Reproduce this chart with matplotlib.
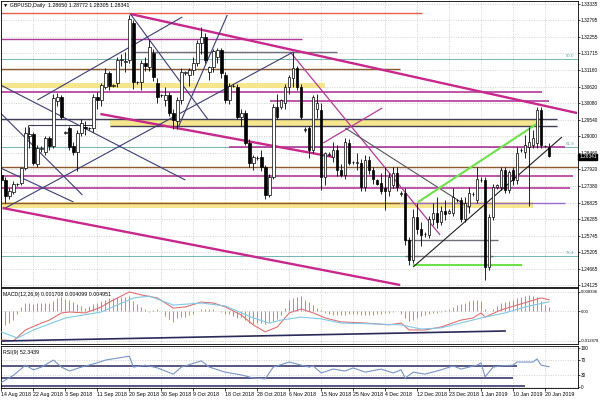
import matplotlib
matplotlib.use("Agg")
import matplotlib.pyplot as plt
import numpy as np

plt.rcParams.update({
    "font.family": ["Liberation Sans", "DejaVu Sans"],
    "font.size": 4,
    "axes.linewidth": 0.6,
})

# ── GBPUSD daily candles (bar index 0 = 14 Aug 2018) ─────────────────────────
opens = [
    1.2772, 1.2757, 1.2704, 1.2718, 1.2742, 1.2747, 1.2796, 1.2900, 1.2908, 1.2810,
    1.2858, 1.2850, 1.2894, 1.2867, 1.3015, 1.3030, 1.2912, 1.2926, 1.2868, 1.2850,
    1.2911, 1.2930, 1.2926, 1.2926, 1.3029, 1.3019, 1.3062, 1.3107, 1.3066, 1.3075,
    1.3150, 1.3145, 1.3150, 1.3272, 1.3078, 1.3078, 1.3140, 1.3127, 1.3173, 1.3075,
    1.3035, 1.3020, 1.3035, 1.2976, 1.2950, 1.3019, 1.3108, 1.3100, 1.3117, 1.3140,
    1.3206, 1.3226, 1.3110, 1.3127, 1.3160, 1.3183, 1.3101, 1.3019, 1.3065, 1.3062,
    1.2963, 1.2976, 1.2878, 1.2812, 1.2828, 1.2832, 1.2799, 1.2707, 1.2766, 1.2996,
    1.2996, 1.3009, 1.3062, 1.3090, 1.3124, 1.3062, 1.2921, 1.2927, 1.2855, 1.2990,
    1.2986, 1.2766, 1.2840, 1.2832, 1.2855, 1.2789, 1.2773, 1.2878, 1.2815, 1.2812,
    1.2812, 1.2734, 1.2822, 1.2789, 1.2755, 1.2747, 1.2730, 1.2722, 1.2740, 1.2780,
    1.2712, 1.2714, 1.2560, 1.2494, 1.2635, 1.2595, 1.2580, 1.2575, 1.2630, 1.2650,
    1.2620, 1.2655, 1.2650, 1.2648, 1.2690, 1.2690, 1.2630, 1.2670, 1.2710, 1.2690,
    1.2757, 1.2757, 1.2470, 1.2635, 1.2734, 1.2735, 1.2790, 1.2725, 1.2790, 1.2757,
    1.2855, 1.2850, 1.2865, 1.2870, 1.2878, 1.2986, 1.2868, 1.2865]
highs = [
    1.2790, 1.2768, 1.2732, 1.2752, 1.2747, 1.2800, 1.2930, 1.2930, 1.2915, 1.2870,
    1.2868, 1.2900, 1.2900, 1.3040, 1.3043, 1.3035, 1.2918, 1.2935, 1.2880, 1.2920,
    1.2955, 1.2950, 1.2930, 1.3040, 1.3045, 1.3075, 1.3125, 1.3115, 1.3072, 1.3160,
    1.3170, 1.3175, 1.3299, 1.3280, 1.3082, 1.3150, 1.3160, 1.3215, 1.3185, 1.3090,
    1.3040, 1.3060, 1.3045, 1.2990, 1.3030, 1.3125, 1.3115, 1.3125, 1.3160, 1.3215,
    1.3257, 1.3240, 1.3130, 1.3185, 1.3190, 1.3188, 1.3110, 1.3075, 1.3070, 1.3070,
    1.2990, 1.2985, 1.2890, 1.2840, 1.2835, 1.2855, 1.2805, 1.2775, 1.3005, 1.3040,
    1.3022, 1.3070, 1.3100, 1.3176, 1.3130, 1.3070, 1.2930, 1.2935, 1.3035, 1.3040,
    1.3010, 1.2850, 1.2848, 1.2880, 1.2870, 1.2810, 1.2895, 1.2890, 1.2820, 1.2845,
    1.2825, 1.2840, 1.2835, 1.2800, 1.2760, 1.2780, 1.2800, 1.2780, 1.2800, 1.2800,
    1.2720, 1.2730, 1.2570, 1.2660, 1.2680, 1.2620, 1.2585, 1.2640, 1.2680, 1.2700,
    1.2670, 1.2690, 1.2660, 1.2730, 1.2695, 1.2700, 1.2700, 1.2735, 1.2718, 1.2800,
    1.2765, 1.2765, 1.2645, 1.2745, 1.2745, 1.2800, 1.2800, 1.2790, 1.2800, 1.2865,
    1.2860, 1.2905, 1.2930, 1.2920, 1.2995, 1.2995, 1.2872, 1.2877]
lows = [
    1.2745, 1.2681, 1.2695, 1.2710, 1.2738, 1.2740, 1.2790, 1.2862, 1.2805, 1.2800,
    1.2850, 1.2840, 1.2855, 1.2860, 1.3000, 1.2955, 1.2908, 1.2855, 1.2840, 1.2786,
    1.2900, 1.2905, 1.2922, 1.2915, 1.2990, 1.3000, 1.3055, 1.3050, 1.3062, 1.3062,
    1.3130, 1.3110, 1.3140, 1.3055, 1.3072, 1.3050, 1.3115, 1.3115, 1.3080, 1.3010,
    1.3030, 1.3000, 1.2965, 1.2925, 1.2925, 1.3005, 1.3100, 1.3065, 1.3100, 1.3130,
    1.3170, 1.3140, 1.3085, 1.3110, 1.3140, 1.3090, 1.3010, 1.3005, 1.3060, 1.2955,
    1.2935, 1.2870, 1.2800, 1.2790, 1.2822, 1.2785, 1.2695, 1.2700, 1.2760, 1.2955,
    1.2990, 1.2990, 1.3040, 1.3060, 1.3050, 1.2955, 1.2915, 1.2830, 1.2845, 1.2960,
    1.2725, 1.2740, 1.2835, 1.2815, 1.2770, 1.2765, 1.2760, 1.2805, 1.2810, 1.2790,
    1.2720, 1.2720, 1.2775, 1.2745, 1.2740, 1.2710, 1.2659, 1.2705, 1.2730, 1.2720,
    1.2705, 1.2545, 1.2477, 1.2485, 1.2580, 1.2540, 1.2570, 1.2565, 1.2610, 1.2600,
    1.2610, 1.2625, 1.2645, 1.2640, 1.2685, 1.2620, 1.2620, 1.2650, 1.2705, 1.2680,
    1.2750, 1.2430, 1.2460, 1.2625, 1.2728, 1.2725, 1.2715, 1.2715, 1.2740, 1.2745,
    1.2850, 1.2830, 1.2670, 1.2860, 1.2860, 1.2860, 1.2864, 1.2831]
closes = [
    1.2757, 1.2704, 1.2720, 1.2745, 1.2744, 1.2795, 1.2912, 1.2908, 1.2812, 1.2860,
    1.2862, 1.2894, 1.2867, 1.3025, 1.3030, 1.2964, 1.2915, 1.2866, 1.2850, 1.2910,
    1.2945, 1.2927, 1.2928, 1.3029, 1.3019, 1.3068, 1.3107, 1.3065, 1.3068, 1.3150,
    1.3152, 1.3148, 1.3285, 1.3078, 1.3077, 1.3140, 1.3130, 1.3193, 1.3094, 1.3029,
    1.3036, 1.3035, 1.2976, 1.2954, 1.3019, 1.3110, 1.3112, 1.3117, 1.3140, 1.3206,
    1.3226, 1.3150, 1.3127, 1.3180, 1.3183, 1.3107, 1.3019, 1.3065, 1.3064, 1.2963,
    1.2976, 1.2878, 1.2812, 1.2832, 1.2830, 1.2799, 1.2707, 1.2766, 1.2996, 1.2963,
    1.3019, 1.3062, 1.3094, 1.3124, 1.3062, 1.2963, 1.2925, 1.2855, 1.3029, 1.3010,
    1.2766, 1.2845, 1.2843, 1.2855, 1.2789, 1.2773, 1.2880, 1.2812, 1.2817, 1.2815,
    1.2734, 1.2822, 1.2789, 1.2760, 1.2745, 1.2720, 1.2722, 1.2766, 1.2780, 1.2734,
    1.2714, 1.2560, 1.2494, 1.2635, 1.2595, 1.2575, 1.2578, 1.2630, 1.2650, 1.2620,
    1.2655, 1.2645, 1.2655, 1.2700, 1.2690, 1.2630, 1.2680, 1.2715, 1.2712, 1.2760,
    1.2758, 1.2470, 1.2635, 1.2734, 1.2740, 1.2790, 1.2725, 1.2782, 1.2757, 1.2845,
    1.2856, 1.2870, 1.2880, 1.2895, 1.2986, 1.2870, 1.2867, 1.2834]

price_ticks = [1.33335, 1.32795, 1.32255, 1.31715, 1.31160, 1.30620, 1.30080, 1.29540, 1.29000,
               1.28460, 1.27920, 1.27380, 1.26825, 1.26285, 1.25745, 1.25205, 1.24665, 1.24125]
last_price = 1.28341

date_pos = [0, 8, 16, 24, 32, 40, 48, 56, 64, 72, 80, 88, 96, 104, 112, 120, 128, 136]
date_labels = ["14 Aug 2018", "22 Aug 2018", "3 Sep 2018", "11 Sep 2018", "20 Sep 2018",
               "30 Sep 2018", "9 Oct 2018", "18 Oct 2018", "28 Oct 2018", "6 Nov 2018",
               "15 Nov 2018", "25 Nov 2018", "4 Dec 2018", "12 Dec 2018", "23 Dec 2018",
               "1 Jan 2019", "10 Jan 2019", "20 Jan 2019"]

# ── drawn objects ────────────────────────────────────────────────────────────
hl_price = [1.3304, 1.3219, 1.3176, 1.3120, 1.30451, 1.30156, 1.29566, 1.29336, 1.29369,
            1.28648, 1.27993, 1.27698, 1.27304, 1.26813, 1.26813, 1.25600, 1.25075, 1.24780]
hl_from = [-0.25, -0.25, 33.5, -0.25, -0.25, 67.25, -0.25, 27.25, 6.75,
           57, -0.25, -0.25, -0.25, -0.25, 99.75, 101, 101, 103]
hl_to = [105.25, 75.25, 84, 99.75, 135.25, 137, 139, 139, 23,
         141, 144.25, 143, 142.25, 99.75, 141, 124.25, 123, 130.25]

band_lo = [1.30582, 1.29336, 1.26649]
band_hi = [1.30746, 1.29533, 1.26845]
band_from = [-0.25, 27.25, -0.25]
band_to = [81, 134.75, 133]

fib_levels = [1.31532, 1.28648, 1.25075]
fib_names = ["50.0", "61.8", "76.4"]

tl_x0 = [32.25, 0.25, 24.75, 80.5, 72.25, 32.25, 9, 1, -0.25, -0.25, -0.25, 44.25, 86, 104.25, 103]
tl_p0 = [1.33007, 1.26649, 1.29730, 1.28779, 1.31762, 1.33007, 1.30188, 1.26649, 1.30680,
         1.29762, 1.27960, 1.29304, 1.29271, 1.26845, 1.24715]
tl_x1 = [144, 99.75, 83, 95.25, 109.75, 51.75, 45.25, 73, 46, 20.25, 18, 56.5, 117.25, 134.25, 140.25]
tl_p1 = [1.29762, 1.24125, 1.28320, 1.29926, 1.25764, 1.29533, 1.32909, 1.31762, 1.27566,
         1.27075, 1.26845, 1.32974, 1.26649, 1.29435, 1.28976]

# ── MACD(12,26,9), values in 1e-4 ────────────────────────────────────────────
macd_hist = [
    -68, -60, -50, -38, -10, 20, 34, 34, 30, 34,
    36, 36, 38, 46, 56, 62, 54, 48, 40, 32,
    24, 16, 24, 30, 36, 44, 50, 56, 58, 62,
    62, 64, 68, 44, 32, 20, 8, -2, 4, 10,
    2, -20, -35, -45, -30, -26, -26, -18, -10, 0,
    8, 8, 8, 10, 2, -4, -10, -10, -20, -28,
    -24, -36, -50, -55, -50, -52, -55, -45, -40, -35,
    -15, 14, 50, 58, 62, 66, 50, 40, 28, 16,
    4, -8, -12, -14, -16, -18, -14, -12, -10, -12,
    -16, -18, -16, -14, -12, -10, -8, -6, -4, 0,
    -10, -30, -40, -36, -30, -20, -16, -12, -8, -6,
    -4, 4, 12, 20, 26, 32, 38, 44, 48, 50,
    46, 8, 2, 10, 24, 34, 40, 46, 50, 56,
    62, 66, 70, 68, 62, 44, 26, 17]
macd_idx = [0, 3, 6, 10, 12, 15, 17, 21, 25, 27, 32, 35, 39, 43, 46, 50, 53, 56, 60, 63, 66,
            69, 72, 75, 78, 81, 85, 91, 97, 100, 102, 106, 110, 115, 118, 120, 121, 125, 129,
            133, 135, 137]
macd_line = [-124, -128, -81, -51, -38, -7, -3, -7, 19, 40, 84, 71, 58, 14, 19, 40, 36, 19,
             -16, -59, -89, -68, -7, 10, -7, -29, -46, -51, -59, -51, -81, -81, -68, -38, -29,
             -7, -25, 6, 27, 48, 58, 50]
signal_idx = [0, 4, 8, 16, 25, 33, 37, 43, 50, 56, 63, 67, 70, 75, 80, 85, 94, 100, 105, 110,
              116, 121, 126, 131, 137]
signal_line = [-90, -116, -81, -29, -3, 58, 66, 27, 36, 23, -29, -51, -38, -25, -33, -51, -55,
               -59, -77, -72, -46, -25, -7, 19, 41]
macd_trend = ([0.25, 126], [-0.01289, -0.00855])

# ── RSI(9) ───────────────────────────────────────────────────────────────────
rsi_idx = [0, 3, 6, 8, 10, 13, 15, 17, 20, 24, 26, 29, 32, 33, 36, 39, 43, 45, 50, 52, 56, 60,
           63, 66, 68, 72, 75, 77, 78, 80, 83, 86, 88, 91, 95, 98, 100, 101, 103, 106, 110,
           113, 115, 119, 120, 121, 123, 125, 128, 129, 133, 134, 135, 137]
rsi_val = [12, 30, 56, 44, 51, 69, 51, 41, 51, 62, 69, 74, 79, 51, 56, 49, 33, 51, 67, 51, 38,
           31, 23, 21, 51, 64, 56, 51, 54, 36, 46, 41, 49, 38, 46, 36, 44, 23, 38, 33, 44, 54,
           46, 56, 62, 26, 51, 54, 56, 64, 64, 72, 56, 52]
rsi_levels = [54.6, 23.8, 2.6]
rsi_level_to = [129, 128, 131]

# ── styles ──────────────────────────────────────────────────────────────────
MAG = "#c8288c"
MAG_H = "#b23a98"
NAVY = "#3c3c78"
DARK = "#3f3f55"
BROWN = "#8c5a32"
RED = "#e8604c"
TEAL = "#5fa8a8"
YELLOW = "#f5e27a"
GREEN = "#6ee04a"
GRAY = "#707078"
PURPLE = "#9a6ad0"
GRID = "#c4c4c4"

hl_col = [RED, MAG_H, GRAY, BROWN, MAG_H, MAG_H, DARK, DARK, DARK,
          MAG_H, BROWN, MAG_H, MAG_H, BROWN, PURPLE, GRAY, GRAY, GREEN]
hl_lw = [1.0, 1.0, 1.0, 1.0, 1.2, 1.2, 1.0, 1.0, 0.8,
         1.2, 1.0, 1.2, 1.2, 1.0, 1.0, 1.0, 1.0, 1.5]
tl_col = [MAG, MAG, MAG, MAG_H, MAG_H, NAVY, NAVY, NAVY, NAVY, NAVY, NAVY, NAVY, "#555560",
          GREEN, "#222222"]
tl_lw = [1.7, 1.7, 1.7, 0.9, 0.9, 0.8, 0.8, 0.8, 0.8, 0.8, 0.8, 0.8, 0.8, 1.5, 0.8]

fig = plt.figure(figsize=(6, 4.09), dpi=100)
W, H = 600, 409
left, width = 0.5 / W, 577.5 / W
ax = fig.add_axes([left, 1 - 287 / H, width, 286 / H])
axm = fig.add_axes([left, 1 - 344 / H, width, 56 / H], sharex=ax)
axr = fig.add_axes([left, 1 - 388 / H, width, 42 / H], sharex=ax)

x = np.arange(len(closes))
o, h, l, c = map(np.array, (opens, highs, lows, closes))

# bands and lines
for lo_, hi_, a, b in zip(band_lo, band_hi, band_from, band_to):
    ax.fill_between([a, b], [lo_, lo_], [hi_, hi_], color=YELLOW, lw=0, alpha=0.85, zorder=1)
for lvl, name in zip(fib_levels, fib_names):
    ax.axhline(lvl, color=TEAL, lw=0.6, zorder=1.5)
    ax.text(141.3, lvl + 0.0003, name, color=TEAL, fontsize=3.2, va="bottom", ha="left")
ax.hlines(hl_price, hl_from, hl_to, colors=hl_col, linewidths=hl_lw, zorder=2)
ax.vlines(6.75, 1.2890, 1.29369, color=DARK, lw=0.8, zorder=2)
for x0, p0, x1, p1, col, lw in zip(tl_x0, tl_p0, tl_x1, tl_p1, tl_col, tl_lw):
    ax.plot([x0, x1], [p0, p1], color=col, lw=lw, zorder=2.5, solid_capstyle="butt")

# candles
bull = c >= o
body_lo = np.minimum(o, c)
body_h = np.maximum(np.abs(c - o), 0.00005)
ax.vlines(x, l, h, color="black", linewidth=0.6, zorder=3)
ax.bar(x[bull], body_h[bull], bottom=body_lo[bull], width=0.62, facecolor="white",
       edgecolor="black", linewidth=0.5, zorder=4)
ax.bar(x[~bull], body_h[~bull], bottom=body_lo[~bull], width=0.62, facecolor="black",
       edgecolor="black", linewidth=0.5, zorder=4)

ax.set_xlim(-0.25, 144.25)
ax.set_ylim(1.24059, 1.33433)
ax.yaxis.tick_right()
ax.set_yticks(price_ticks)
ax.set_yticklabels([f"{p:.5f}" for p in price_ticks])
ax.text(1.002, last_price - 0.0002, f"{last_price:.5f}", transform=ax.get_yaxis_transform(),
        color="white", fontsize=3.4, va="center", ha="left",
        bbox=dict(facecolor="black", edgecolor="black", pad=0.5), zorder=10, clip_on=False)
fig.text(3 / W, 1 - 5 / H, "\u25bc GBPUSD,Daily  1.28650 1.28772 1.28305 1.28341",
         fontsize=3.8, va="center", ha="left")

# MACD panel
hist = np.array(macd_hist) * 1e-4
axm.vlines(x, 0, hist, color="#a89a78", linewidth=0.7, zorder=2)
axm.plot(macd_idx, np.array(macd_line) * 1e-4, color="#e07070", lw=0.8, zorder=3)
axm.plot(signal_idx, np.array(signal_line) * 1e-4, color="#80c8e8", lw=0.8, zorder=3)
axm.plot(macd_trend[0], macd_trend[1], color="#2a2a5a", lw=1.2, zorder=3)
axm.set_ylim(-0.014192, 0.010112)
axm.yaxis.tick_right()
axm.set_yticks([0.008396, 0.0, -0.012878])
axm.set_yticklabels(["0.008396", "0.00", "-0.012878"])
axm.text(0.005, 0.93, "MACD(12,26,9) 0.001708 0.004099 0.004951", transform=axm.transAxes,
         fontsize=3.8, va="top", ha="left")

# RSI panel
axr.plot(rsi_idx, rsi_val, color="#7894c8", lw=0.8, zorder=3)
axr.hlines(rsi_levels, -0.25, rsi_level_to, colors="#3a3a6a", linewidths=1.2, zorder=2)
axr.set_ylim(-2.56, 105.1)
axr.yaxis.tick_right()
axr.set_yticks([100, 70, 30, 0])
axr.set_yticklabels(["100", "70", "30", "0"])
axr.text(0.005, 0.9, "RSI(9) 52.3439", transform=axr.transAxes, fontsize=3.8,
         va="top", ha="left")

axr.set_xticks(date_pos)
axr.set_xticklabels(date_labels, ha="left")

for a in (ax, axm, axr):
    a.grid(True, color=GRID, linestyle=(0, (1.5, 2)), linewidth=0.5)
    a.set_axisbelow(True)
    a.tick_params(axis="y", labelsize=3.4, length=1.5, width=0.5, pad=0.6)
    a.tick_params(axis="x", labelsize=3.8, length=2, width=0.5, pad=1)
axm.tick_params(axis="y", labelsize=3.0)
ax.tick_params(axis="x", labelbottom=False, length=0)
axm.tick_params(axis="x", labelbottom=False, length=0)

fig.savefig("out.png", dpi=100)
